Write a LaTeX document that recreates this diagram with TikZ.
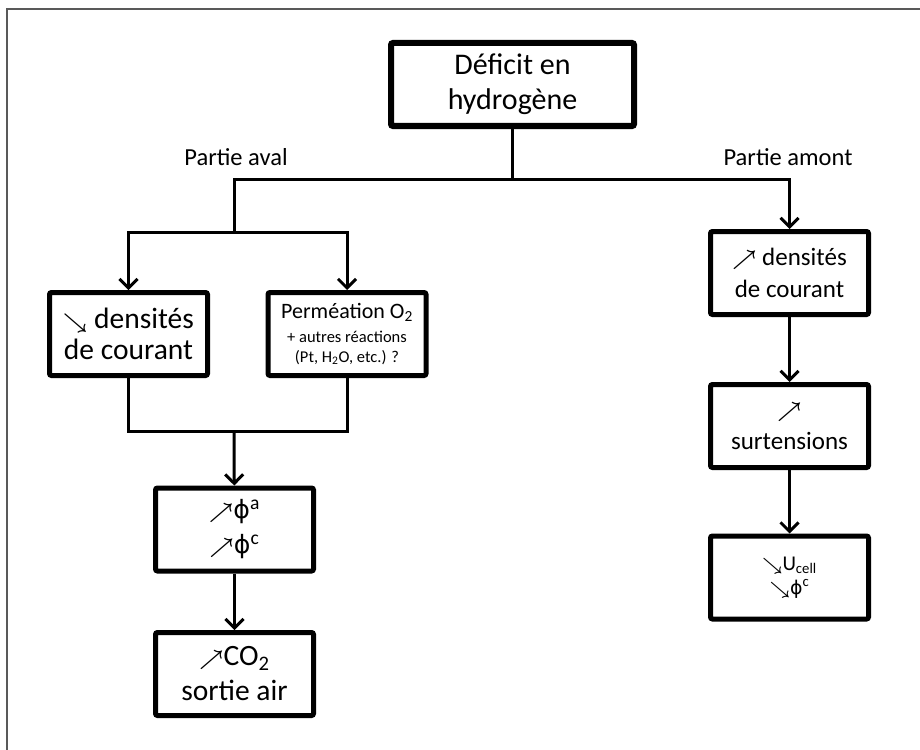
\documentclass[tikz,border=0pt]{standalone}
\usepackage{fontspec}
\setmainfont{Carlito}
\newfontfamily\symfont{DejaVu Sans}
\usepackage{graphicx}
\usetikzlibrary{arrows.meta}
\newcommand{\hausse}{\scalebox{0.85}{\boldmath$\nearrow$}}
\newcommand{\baisse}{\scalebox{0.85}{\boldmath$\searrow$}}
\newcommand{\flux}{{\symfont\scalebox{0.9}{ϕ}}}
\tikzset{
  box/.style={draw=black,fill=white,line width=5pt,rounded corners=2pt,
              minimum width=158pt,minimum height=83pt,inner sep=0pt,align=center},
  rootbox/.style={box,line width=6pt,minimum width=243pt},
  flow/.style={-{Straight Barb[length=9pt,width=18pt]},line width=3pt},
  link/.style={line width=3pt},
  side/.style={font=\fontsize{24.5}{28}\selectfont},
  frameline/.style={draw=black!65,line width=1.6pt},
}

\begin{document}
\begin{tikzpicture}[x=1pt,y=-1pt]
  \useasboundingbox (0,0) rectangle (920,749);
  \draw[frameline] (7,760) -- (7,9) -- (930,9);
  % ---------------- top ----------------
  \node[rootbox,font=\fontsize{30}{35}\selectfont] (deficit) at (512.5,84.5)
    {Déficit en\\hydrogène};
  \node[side] (avalLabel)  at (236,157) {Partie aval};
  \node[side] (amontLabel) at (788,157) {Partie amont};
  % ---------------- partie aval ----------------
  \node[box,font=\fontsize{29.5}{31}\selectfont] (densL) at (128.5,334)
    {\baisse{} densités\\de courant};
  \node[box,font=\fontsize{16.5}{20}\selectfont] (perm) at (347,334)
    {{\fontsize{22}{25}\selectfont Perméation O\textsubscript{2}}\\[4pt]
     + autres réactions\\(Pt, H\textsubscript{2}O, etc.) ?};
  \node[box,font=\fontsize{28}{35}\selectfont] (phi) at (234.5,529.5)
    {\hausse\flux\textsuperscript{a}\\\hausse\flux\textsuperscript{c}};
  \node[box,font=\fontsize{29.5}{35}\selectfont] (co2) at (234.5,674)
    {\hausse CO\textsubscript{2}\\sortie air};
  % ---------------- partie amont ----------------
  \node[box,font=\fontsize{25}{32}\selectfont] (densR) at (789.5,273)
    {\hausse{} densités\\de courant};
  \node[box,font=\fontsize{25}{32}\selectfont] (surt) at (789.5,426)
    {\hausse\\surtensions};
  \node[box,font=\fontsize{21}{24}\selectfont] (ucell) at (789.5,577.5)
    {\baisse U\textsubscript{cell}\\\baisse\flux\textsuperscript{c}};
  % ---------------- forks ----------------
  \coordinate (forkTop)  at (512.5,179);
  \coordinate (forkAval) at (234,232);
  \coordinate (joinAval) at (234,431);
  % ---------------- edges ----------------
  \draw[link] (deficit) -- (forkTop);
  \draw[flow] (forkTop) -| (densR);
  \draw[link] (forkTop) -| (forkAval);
  \draw[flow] (forkAval) -| (densL);
  \draw[flow] (forkAval) -| (perm);
  \draw[link] (densL) |- (joinAval);
  \draw[link] (perm)  |- (joinAval);
  \draw[flow] (joinAval) -- (phi);
  \draw[flow] (phi)   -- (co2);
  \draw[flow] (densR) -- (surt);
  \draw[flow] (surt)  -- (ucell);
\end{tikzpicture}
\end{document}
